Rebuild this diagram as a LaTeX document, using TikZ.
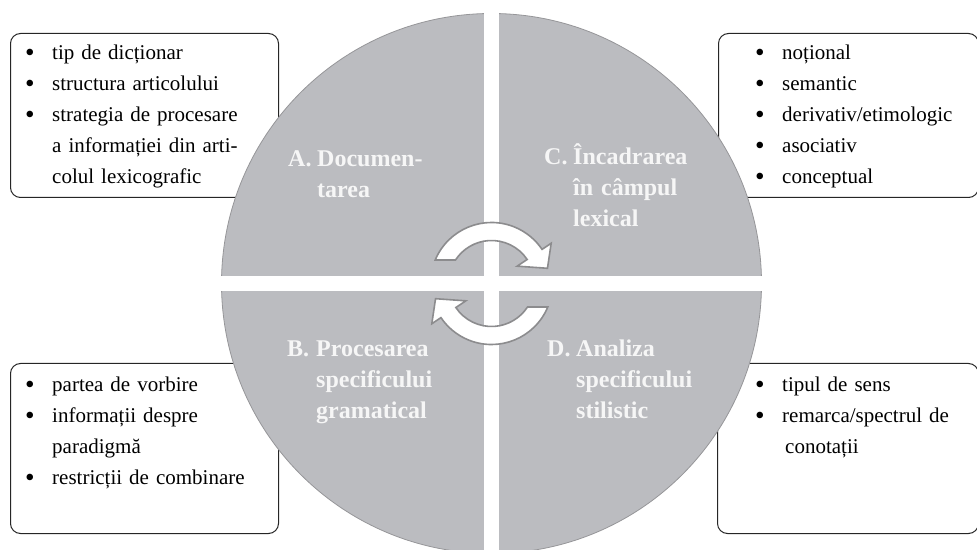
\documentclass[tikz,border=0pt]{standalone}
\usepackage{fontspec}
\setmainfont{Liberation Serif}
\usetikzlibrary{positioning}

\definecolor{discgray}{RGB}{187,188,192}
\definecolor{rimgray}{RGB}{150,150,153}
\definecolor{arrowrim}{RGB}{140,140,142}
\definecolor{titlewhite}{RGB}{246,246,246}

\tikzset{
  listbox/.style={draw=black!85, line width=1pt, rounded corners=10pt, fill=white, inner sep=0pt},
  listtext/.style={anchor=base west, inner sep=0pt, text width=250pt, align=left,
    font=\fontsize{21}{31}\selectfont},
  quadtitle/.style={anchor=base west, inner sep=0pt, text width=190pt, align=left,
    text=titlewhite, font=\fontsize{24}{31}\selectfont\bfseries},
  cyclearrow/.style={fill=white, draw=arrowrim, line width=1.6pt}
}

\newcommand{\itm}[1]{\makebox[27pt][l]{\raisebox{-1.2pt}{\scalebox{1.3}{\textbullet}}}#1}
\newcommand{\cont}[1]{\hspace*{27pt}#1}
\newcommand{\qlabel}[1]{\makebox[29pt][l]{#1}}

\begin{document}
\begin{tikzpicture}[x=1pt,y=1pt]
\useasboundingbox (0,0) rectangle (977,549);

% boxes
\node[listbox, minimum width=268pt, minimum height=164pt, anchor=north west] (boxA) at (10,516) {};
\node[listbox, minimum width=260pt, minimum height=164pt, anchor=north west] (boxC) at (718,516) {};
\node[listbox, minimum width=268pt, minimum height=170pt, anchor=north west] (boxB) at (10,186) {};
\node[listbox, minimum width=261pt, minimum height=170pt, anchor=north west] (boxD) at (717,186) {};

\node[listtext] (listA) at ([xshift=15pt,yshift=-27pt]boxA.north west)
  {\itm{tip de dicționar}\\\itm{structura articolului}\\\itm{strategia de procesare}\\
   \cont{a informației din arti-}\\\cont{colul lexicografic}};
\node[listtext] (listC) at ([xshift=37pt,yshift=-27pt]boxC.north west)
  {\itm{noțional}\\\itm{semantic}\\\itm{derivativ/etimologic}\\\itm{asociativ}\\\itm{conceptual}};
\node[listtext] (listB) at ([xshift=15pt,yshift=-29pt]boxB.north west)
  {\itm{partea de vorbire}\\\itm{informații despre}\\\cont{paradigmă}\\\itm{restricții de combinare}};
\node[listtext] (listD) at ([xshift=38pt,yshift=-29pt]boxD.north west)
  {\itm{tipul de sens}\\\itm{remarca/spectrul de}\\\cont{\hspace{3pt}conotații}};

% disc in four parts
\coordinate (O) at (491.5,265.5);
\draw[fill=discgray, draw=rimgray, line width=0.8pt] (O) circle [radius=270pt];
\fill[white] (484,-5) rectangle (499,560);
\fill[white] (200,258) rectangle (780,273);

\node[quadtitle] (titleA) at (288,382) {\qlabel{A.}Documen-\\\hspace*{29pt}tarea};
\node[quadtitle] (titleC) at (544,384) {\qlabel{C.}Încadrarea\\\hspace*{29pt}în câmpul\\\hspace*{29pt}lexical};
\node[quadtitle] (titleB) at (287,192) {\qlabel{B.}Procesarea\\\hspace*{29pt}specificului\\\hspace*{29pt}gramatical};
\node[quadtitle] (titleD) at (547,192) {\qlabel{D.}Analiza\\\hspace*{29pt}specificului\\\hspace*{29pt}stilistic};

% arrows
\foreach \ang in {0,180}
  \draw[cyclearrow, shift={(O)}, rotate=\ang]
    (157.3:61) arc [start angle=157.3, end angle=34, radius=61pt]
    -- (34:72) -- (15.2:58) -- (34:31) -- (34:43)
    arc [start angle=34, end angle=146.9, radius=43pt] -- cycle;
\end{tikzpicture}
\end{document}
